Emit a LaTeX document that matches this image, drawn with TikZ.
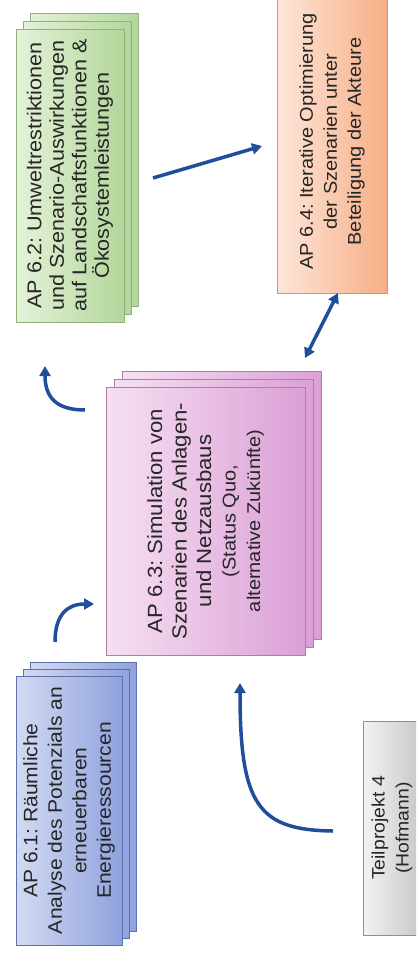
\documentclass[tikz,border=0pt]{standalone}
\usepackage{fontspec}
\setmainfont[FakeStretch=1.08]{Liberation Sans}
\frenchspacing
\usetikzlibrary{arrows.meta}
\definecolor{arrowblue}{HTML}{1F4F9A}
\definecolor{GL}{HTML}{E4F2D8}\definecolor{GD}{HTML}{B3D79B}\definecolor{GB}{HTML}{8FB27A}
\definecolor{BL}{HTML}{D3DAF2}\definecolor{BD}{HTML}{8FA2DE}\definecolor{BB}{HTML}{5E70AA}
\definecolor{PL}{HTML}{F6E0F2}\definecolor{PD}{HTML}{DBA0D6}\definecolor{PB}{HTML}{B47AAE}
\definecolor{OL}{HTML}{FDE6D9}\definecolor{OD}{HTML}{F7AE86}\definecolor{OB}{HTML}{D49472}
\definecolor{YL}{HTML}{F3F3F3}\definecolor{YD}{HTML}{C7C7C7}\definecolor{YB}{HTML}{909090}
\begin{document}
\begin{tikzpicture}[x=1pt,y=-1pt,
  box/.style={rectangle, rotate=90, inner sep=0pt, align=center, line width=0.6pt, text=black!85},
  greenbox/.style={box, draw=GB, left color=GL, right color=GD, minimum width=293pt, minimum height=108pt},
  bluebox/.style={box, draw=BB, left color=BL, right color=BD, minimum width=269pt, minimum height=106pt},
  pinkbox/.style={box, draw=PB, left color=PL, right color=PD, minimum width=268pt, minimum height=199pt},
  orangebox/.style={box, draw=OB, left color=OL, right color=OD, minimum width=303pt, minimum height=110pt},
  graybox/.style={box, draw=YB, left color=YL, right color=YD, minimum width=214pt, minimum height=58pt},
  conn/.style={draw=arrowblue, line width=3.5pt, -{Triangle[length=10pt,width=11pt]}},
  dconn/.style={draw=arrowblue, line width=3.5pt, {Triangle[length=10pt,width=11pt]}-{Triangle[length=10pt,width=11pt]}}
]
\useasboundingbox (0,0) rectangle (416,954);
\clip (0,0) rectangle (416,954);
\fill[white] (0,0) rectangle (416,954);

% AP 6.2 (green stack)
\node[greenbox] (g3) at (84,159.5) {};
\node[greenbox] (g2) at (77,167.5) {};
\node[greenbox, font=\fontsize{20}{22.5}\selectfont] (g1) at (70,175.5)
  {AP 6.2: Umweltrestriktionen\\und Szenario-Auswirkungen\\auf Landschaftsfunktionen \&\\Ökosystemleistungen};

% AP 6.1 (blue stack)
\node[bluebox] (b3) at (83,796.5) {};
\node[bluebox] (b2) at (76,803.5) {};
\node[bluebox, font=\fontsize{19.5}{24.5}\selectfont] (b1) at (69,810.5)
  {AP 6.1: Räumliche\\Analyse des Potenzials an\\erneuerbaren\\Energieressourcen};

% AP 6.3 (pink stack)
\node[pinkbox] (p3) at (221.5,505) {};
\node[pinkbox] (p2) at (213.5,513) {};
\node[pinkbox, font=\fontsize{20.5}{24.5}\selectfont] (p1) at (205.5,521)
  {AP 6.3: Simulation von\\Szenarien des Anlagen-\\und Netzausbaus\\{\fontsize{18.5}{24.5}\selectfont(Status Quo,}\\{\fontsize{18.5}{24.5}\selectfont alternative Zukünfte)}};

% AP 6.4 (orange)
\node[orangebox, font=\fontsize{18.5}{24}\selectfont] (o1) at (332,141.5)
  {AP 6.4: Iterative Optimierung\\der Szenarien unter\\Beteiligung der Akteure};

% Teilprojekt 4 (gray)
\node[graybox, font=\fontsize{18}{24}\selectfont] (t1) at (392,828)
  {Teilprojekt 4\\(Hofmann)};

% connector end points
\coordinate (a1s) at (333,831);
\coordinate (a1e) at (240,683);
\coordinate (a2s) at (55,642);
\coordinate (a2e) at (94,604);
\coordinate (a3s) at (85,410);
\coordinate (a3e) at (45,366);
\coordinate (a4s) at (153,178);
\coordinate (a4e) at (262,146);
\coordinate (a5s) at (305,358);
\coordinate (a5e) at (338,293);

\draw[conn] (a1s) .. controls (258,830) and (240,805) .. (a1e);
\draw[conn] (a2s) .. controls (55,614) and (68,604) .. (a2e);
\draw[conn] (a3s) .. controls (57,410) and (45,398) .. (a3e);
\draw[conn] (a4s) -- (a4e);
\draw[dconn] (a5s) -- (a5e);
\end{tikzpicture}
\end{document}
